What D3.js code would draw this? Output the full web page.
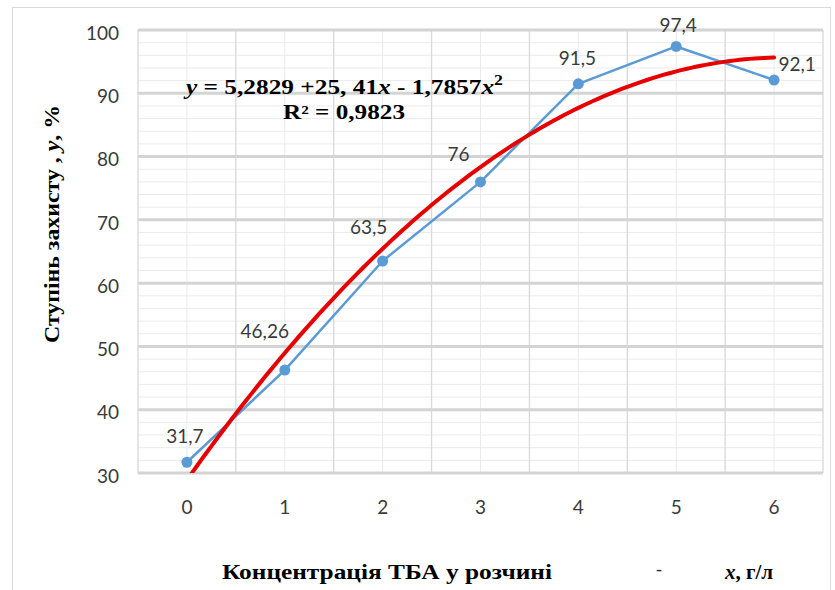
<!DOCTYPE html>
<html>
<head>
<meta charset="utf-8">
<script src="https://cdn.jsdelivr.net/npm/d3@7"></script>
<style>
  body { margin: 0; background: #fff; }
  svg { display: block; }
  .tick-label { font-family: Lato, "Open Sans", sans-serif; font-size: 19px; fill: #3a3a3a; }
  .serif { font-family: "Liberation Serif", "Times New Roman", serif; font-weight: bold; fill: #000; }
</style>
</head>
<body>
<div id="chart"></div>
<script>
// data
const categories = [0, 1, 2, 3, 4, 5, 6];
const protection = [31.7, 46.26, 63.5, 76, 91.5, 97.4, 92.1];
const valueLabels = ["31,7", "46,26", "63,5", "76", "91,5", "97,4", "92,1"];
const yTicks = [30, 40, 50, 60, 70, 80, 90, 100];
// trendline y = a + b*x + c*x^2 (Excel uses x = 1..7 on a category axis)
const trendCoef = [5.2829, 25.41, -1.7857];

// label nudges (dx, dy) from each point
const labelOffsets = [[-2, -26], [-20, -39], [-14, -34], [-22, -28], [-1, -26], [2, -21], [23, -16]];

const width = 835;
const height = 590;
const plot = { left: 138, right: 823, top: 30, bottom: 473 };

const svg = d3.select("#chart").append("svg")
    .attr("width", width)
    .attr("height", height);

// outer chart frame
svg.append("rect")
    .attr("x", 12.5).attr("y", 7.5)
    .attr("width", 818).attr("height", 600)
    .attr("fill", "none")
    .attr("stroke", "#d9d9d9");

const x = d3.scaleBand()
    .domain(categories)
    .range([plot.left, plot.right]);

const y = d3.scaleLinear()
    .domain([30, 100])
    .range([plot.bottom, plot.top]);

const cx = d => x(d) + x.bandwidth() / 2;

const grid = svg.append("g");

// minor horizontal grid every 2
grid.selectAll(".minor-h")
    .data(d3.range(30, 101, 2).filter(v => v % 10 !== 0))
    .join("line")
    .attr("x1", plot.left).attr("x2", plot.right)
    .attr("y1", d => y(d)).attr("y2", d => y(d))
    .attr("stroke", "#ebebeb")
    .attr("stroke-width", 1);

// vertical lines through the category centres
grid.selectAll(".minor-v")
    .data(categories)
    .join("line")
    .attr("x1", d => cx(d)).attr("x2", d => cx(d))
    .attr("y1", plot.top).attr("y2", plot.bottom)
    .attr("stroke", "#ebebeb")
    .attr("stroke-width", 1);

// vertical lines on the band edges
grid.selectAll(".major-v")
    .data(categories.concat([null]))
    .join("line")
    .attr("x1", (d, i) => i < categories.length ? x(d) : plot.right)
    .attr("x2", (d, i) => i < categories.length ? x(d) : plot.right)
    .attr("y1", plot.top).attr("y2", plot.bottom)
    .attr("stroke", "#d9d9d9")
    .attr("stroke-width", 1.3);

// major horizontal grid
grid.selectAll(".major-h")
    .data(yTicks)
    .join("line")
    .attr("x1", plot.left).attr("x2", plot.right)
    .attr("y1", d => y(d)).attr("y2", d => y(d))
    .attr("stroke", "#d4d4d4")
    .attr("stroke-width", 3);

// y axis labels
const yAxis = g => g
    .attr("transform", `translate(${plot.left},0)`)
    .call(d3.axisLeft(y).tickValues(yTicks).tickSize(0).tickPadding(19))
    .call(g => g.select(".domain").remove())
    .call(g => g.selectAll("text")
        .attr("class", "tick-label")
        .attr("dy", "0.38em")
        .attr("y", 2)
        .attr("fill", null));

svg.append("g").call(yAxis);

// x axis labels
const xAxis = g => g
    .attr("transform", `translate(0,${plot.bottom})`)
    .call(d3.axisBottom(x).tickSize(0).tickPadding(28))
    .call(g => g.select(".domain").remove())
    .call(g => g.selectAll("text")
        .attr("class", "tick-label")
        .attr("fill", null));

svg.append("g").call(xAxis);

// clip for the trendline
svg.append("clipPath")
    .attr("id", "plot-clip")
    .append("rect")
    .attr("x", plot.left).attr("y", plot.top)
    .attr("width", plot.right - plot.left)
    .attr("height", plot.bottom - plot.top);

const trend = t => trendCoef[0] + trendCoef[1] * (t + 1) + trendCoef[2] * (t + 1) * (t + 1);
const tx = d3.scaleLinear().domain([0, 6]).range([cx(0), cx(6)]);

const line = d3.line()
    .x((d, i) => cx(categories[i]))
    .y(d => y(d));

// measured series
svg.append("path")
    .datum(protection)
    .attr("fill", "none")
    .attr("stroke", "#5b9bd5")
    .attr("stroke-width", 2.5)
    .attr("stroke-linejoin", "round")
    .attr("d", line);

svg.append("g")
    .selectAll("circle")
    .data(protection)
    .join("circle")
    .attr("cx", (d, i) => cx(categories[i]))
    .attr("cy", d => y(d))
    .attr("r", 5.5)
    .attr("fill", "#5b9bd5");

// polynomial trendline
svg.append("path")
    .datum(d3.range(0, 6.0001, 0.05))
    .attr("clip-path", "url(#plot-clip)")
    .attr("fill", "none")
    .attr("stroke", "#e60000")
    .attr("stroke-width", 4)
    .attr("stroke-linecap", "round")
    .attr("d", d3.line().x(t => tx(t)).y(t => y(trend(t))).curve(d3.curveBasis));

// data labels
svg.append("g")
    .selectAll("text")
    .data(protection)
    .join("text")
    .attr("class", "tick-label")
    .attr("x", (d, i) => cx(categories[i]) + labelOffsets[i][0])
    .attr("y", (d, i) => y(d) + labelOffsets[i][1])
    .attr("dy", "0.36em")
    .attr("text-anchor", "middle")
    .text((d, i) => valueLabels[i]);

// equation
const eq = svg.append("text")
    .attr("class", "serif")
    .attr("x", 186).attr("y", 94)
    .attr("font-size", 20)
    .attr("textLength", 317)
    .attr("lengthAdjust", "spacingAndGlyphs");
eq.append("tspan").attr("font-style", "italic").text("y");
eq.append("tspan").text(" = 5,2829 +25, 41");
eq.append("tspan").attr("font-style", "italic").text("x");
eq.append("tspan").text(" - 1,7857");
eq.append("tspan").attr("font-style", "italic").text("x");
eq.append("tspan").attr("font-size", 14).attr("dy", -9).text("2");

svg.append("text")
    .attr("class", "serif")
    .attr("x", 283).attr("y", 119)
    .attr("font-size", 20)
    .attr("textLength", 122)
    .attr("lengthAdjust", "spacingAndGlyphs")
    .text("R² = 0,9823");

// y axis title
const yTitle = svg.append("text")
    .attr("class", "serif")
    .attr("transform", "translate(59,343) rotate(-90)")
    .attr("font-size", 20)
    .attr("textLength", 238)
    .attr("lengthAdjust", "spacingAndGlyphs");
yTitle.append("tspan").text("Ступінь захисту , ");
yTitle.append("tspan").attr("font-style", "italic").text("y");
yTitle.append("tspan").text(", %");

// x axis title
svg.append("text")
    .attr("class", "serif")
    .attr("x", 222).attr("y", 579)
    .attr("font-size", 21)
    .attr("textLength", 330)
    .attr("lengthAdjust", "spacingAndGlyphs")
    .text("Концентрація ТБА у розчині");

svg.append("text")
    .attr("x", 656).attr("y", 575)
    .attr("font-family", "Liberation Serif, serif")
    .attr("font-size", 18)
    .attr("fill", "#333")
    .text("-");

const xUnit = svg.append("text")
    .attr("class", "serif")
    .attr("x", 725).attr("y", 579)
    .attr("font-size", 21);
xUnit.append("tspan").attr("font-style", "italic").text("x");
xUnit.append("tspan").text(", г/л");
</script>
</body>
</html>
